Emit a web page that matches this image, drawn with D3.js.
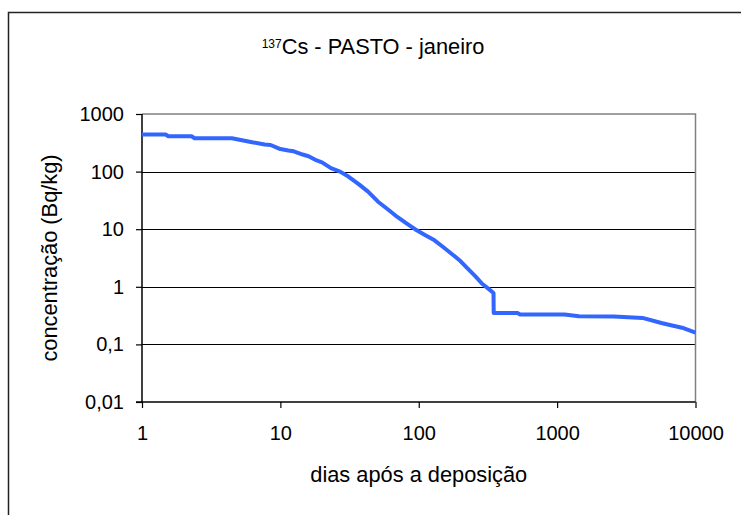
<!DOCTYPE html>
<html>
<head>
<meta charset="utf-8">
<script src="https://cdn.jsdelivr.net/npm/d3@7"></script>
<style>
  html, body { margin: 0; padding: 0; background: #fff; }
  svg { display: block; font-family: "Liberation Sans", Arial, sans-serif; }
</style>
</head>
<body>
<svg id="chart" width="741" height="515"></svg>
<script>
// 137Cs concentration in pasture after a January deposition
const days = [1, 1.48, 1.55, 2.28, 2.4, 4.46, 6, 7.7, 8.5, 9.8, 11.4, 12.5, 14.5, 16, 18.3, 20, 23.2, 27, 31, 37, 43, 50.8, 60, 70, 82, 94, 110, 130, 150, 179, 200, 226, 255, 287, 320, 347, 348, 400, 517, 540, 800, 1132, 1437, 2570, 4140, 5670, 6650, 8000, 10000];
const conc = [440, 440, 410, 410, 380, 380, 330, 295, 290, 250, 233, 225, 198, 185, 156, 145, 115, 100, 82, 60, 45, 30, 22, 16.3, 12.5, 10, 8, 6.4, 4.9, 3.5, 2.8, 2.07, 1.55, 1.13, 0.92, 0.78, 0.35, 0.35, 0.35, 0.33, 0.33, 0.33, 0.307, 0.305, 0.288, 0.235, 0.215, 0.195, 0.16];

const xTicks = [1, 10, 100, 1000, 10000];
const yTicks = [0.01, 0.1, 1, 10, 100, 1000];
const yTickLabels = ["0,01", "0,1", "1", "10", "100", "1000"];

const title = { iso: "137", rest: "Cs - PASTO - janeiro" };
const xTitle = "dias após a deposição";
const yTitle = "concentração (Bq/kg)";

const svg = d3.select("#chart");
const plot = { left: 142, right: 695.5, top: 114, bottom: 402 };

const x = d3.scaleLog().domain([1, 10000]).range([plot.left, plot.right]);
const y = d3.scaleLog().domain([0.01, 1000]).range([plot.bottom, plot.top]);

// outer chart frame
svg.append("rect")
  .attr("x", 8.5).attr("y", 12.5)
  .attr("width", 760).attr("height", 540)
  .attr("fill", "#fff").attr("stroke", "#222").attr("stroke-width", 1.5);

// horizontal gridlines
svg.append("g").selectAll("line")
  .data(yTicks.slice(1, -1))
  .join("line")
  .attr("x1", plot.left).attr("x2", plot.right)
  .attr("y1", d => Math.round(y(d)) + 0.5).attr("y2", d => Math.round(y(d)) + 0.5)
  .attr("stroke", "#000").attr("stroke-width", 1);

// plot area border (top and right)
svg.append("path")
  .attr("d", `M${plot.left},${plot.top}H${plot.right}V${plot.bottom}`)
  .attr("fill", "none").attr("stroke", "#808080").attr("stroke-width", 1.5);

// axes
const xAxis = d3.axisBottom(x).tickValues(xTicks).tickFormat(d3.format("d")).tickSize(6).tickPadding(18);
const yAxis = d3.axisLeft(y).tickValues(yTicks).tickFormat((d, i) => yTickLabels[i]).tickSize(6).tickPadding(12);

const gx = svg.append("g").attr("transform", `translate(0,${plot.bottom})`).call(xAxis);
const gy = svg.append("g").attr("transform", `translate(${plot.left},0)`).call(yAxis);

[gx, gy].forEach(g => {
  g.select(".domain").attr("stroke", "#000").attr("stroke-width", 1.5);
  g.selectAll(".tick line").attr("stroke", "#000").attr("stroke-width", 1.2);
  g.selectAll(".tick text")
    .attr("font-family", "Liberation Sans, Arial, sans-serif")
    .attr("font-size", 20).attr("fill", "#000");
});
gx.select(".domain").attr("d", `M${plot.left - 6},0H${plot.right}`);
gy.select(".domain").attr("d", `M0,${plot.top}V${plot.bottom}`);

// data line
const line = d3.line()
  .x((d, i) => x(days[i]))
  .y((d, i) => y(conc[i]));

svg.append("path")
  .datum(days)
  .attr("d", line)
  .attr("fill", "none")
  .attr("stroke", "#3366ff")
  .attr("stroke-width", 4)
  .attr("stroke-linejoin", "round");

// titles
const t = svg.append("text")
  .attr("x", 373).attr("y", 53.5)
  .attr("text-anchor", "middle")
  .attr("font-size", 21.8).attr("fill", "#000");
t.append("tspan").attr("font-size", 12).attr("dy", -6).text(title.iso);
t.append("tspan").attr("dy", 6).text(title.rest);

svg.append("text")
  .attr("x", (plot.left + plot.right) / 2).attr("y", 481.5)
  .attr("text-anchor", "middle")
  .attr("font-size", 21.8).attr("fill", "#000")
  .text(xTitle);

svg.append("text")
  .attr("transform", `translate(57,${(plot.top + plot.bottom) / 2}) rotate(-90)`)
  .attr("text-anchor", "middle")
  .attr("font-size", 21.8).attr("fill", "#000")
  .text(yTitle);
</script>
</body>
</html>
